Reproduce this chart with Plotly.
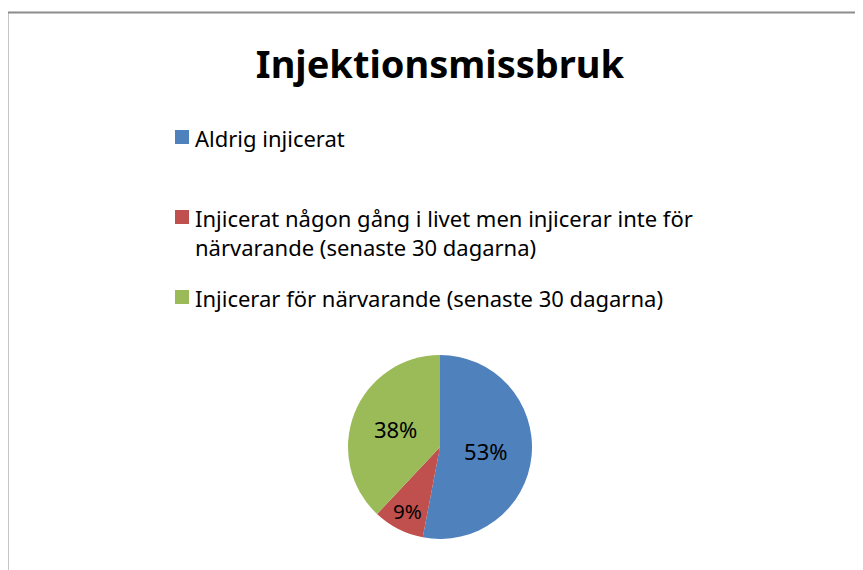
import plotly.graph_objects as go

# Data
categories = [
    "Aldrig injicerat",
    "Injicerat någon gång i livet men injicerar inte för närvarande (senaste 30 dagarna)",
    "Injicerar för närvarande (senaste 30 dagarna)",
]
values = [53, 9, 38]
colors = ["#4F81BD", "#C0504D", "#9BBB59"]
title_text = "Injektionsmissbruk"

W, H = 863, 570
FONT = "Noto Sans"
OFF = 8  # browser default body margin

def px_x(x):
    return (x - OFF) / W

def px_y(y):
    return 1 - (y - OFF) / H

fig = go.Figure()
fig.add_trace(go.Pie(
    labels=categories,
    values=values,
    marker=dict(colors=colors),
    sort=False,
    direction="clockwise",
    rotation=0,
    textinfo="percent",
    texttemplate="%{percent:.0%}",
    textposition="inside",
    insidetextorientation="horizontal",
    insidetextfont=dict(family=FONT, size=22, color="black"),
    showlegend=False,
    domain=dict(x=[px_x(348), px_x(532)], y=[px_y(539), px_y(355)]),
    hoverinfo="label+percent",
))

# Legend drawn as squares + text, built from the category lists
legend_rows = [137, 217, 297]
wrapped = [
    categories[0],
    "Injicerat någon gång i livet men injicerar inte för<br>närvarande (senaste 30 dagarna)",
    categories[2],
]
shapes = []
annotations = []
for row_y, lab, col in zip(legend_rows, wrapped, colors):
    shapes.append(dict(type="rect", xref="paper", yref="paper",
                       x0=px_x(175), x1=px_x(189), y0=px_y(row_y + 7), y1=px_y(row_y - 7),
                       fillcolor=col, line=dict(width=0)))
    annotations.append(dict(text=lab, xref="paper", yref="paper",
                            x=px_x(193), y=px_y(row_y - 16), xanchor="left", yanchor="top",
                            align="left", showarrow=False,
                            font=dict(family=FONT, size=22, color="black")))

# Frame lines (top and left)
shapes.append(dict(type="line", xref="paper", yref="paper",
                   x0=px_x(7.5), x1=1, y0=px_y(12.5), y1=px_y(12.5),
                   line=dict(color="#8C8C8C", width=2)))
shapes.append(dict(type="line", xref="paper", yref="paper",
                   x0=px_x(7.5), x1=px_x(7.5), y0=px_y(12.5), y1=0,
                   line=dict(color="#8C8C8C", width=2)))

fig.update_layout(
    width=W, height=H,
    margin=dict(l=0, r=0, t=0, b=0),
    paper_bgcolor="white",
    plot_bgcolor="white",
    title=dict(text="<b>" + title_text + "</b>", x=px_x(440), xanchor="center",
               y=px_y(65), yanchor="middle",
               font=dict(family=FONT, size=38, color="black")),
    shapes=shapes,
    annotations=annotations,
)

fig.write_html("out.html")
